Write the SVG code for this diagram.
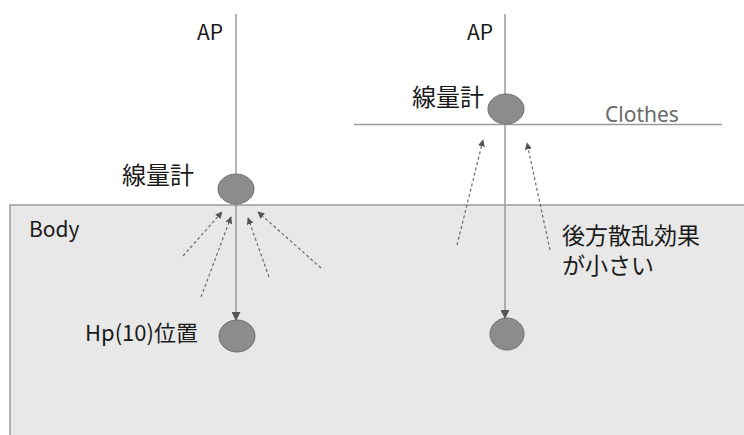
<svg xmlns="http://www.w3.org/2000/svg" width="744" height="435" viewBox="0 0 744 435">
<defs>
<style>
.t{font-family:"Noto Sans CJK JP","Liberation Sans",sans-serif;fill:#1a1a1a}
.ln{stroke:#9a9a9a;stroke-width:1.5;fill:none}
.dash{stroke:#6a6a6a;stroke-width:1.2;stroke-dasharray:3,2.5;fill:none}
.el{fill:#8c8c8c;stroke:#6e6e6e;stroke-width:1}
</style>
<marker id="ah" viewBox="0 0 10 10" refX="9" refY="5" markerWidth="7" markerHeight="7" orient="auto" markerUnits="userSpaceOnUse">
<path d="M0,0 L10,5 L0,10 z" fill="#555"/>
</marker>
<marker id="ah2" viewBox="0 0 10 10" refX="9" refY="5" markerWidth="9" markerHeight="9" orient="auto" markerUnits="userSpaceOnUse">
<path d="M0,0 L10,5 L0,10 z" fill="#555"/>
</marker>
</defs>
<rect width="744" height="435" fill="#fff"/>
<g id="body">
<rect x="10" y="205" width="740" height="240" fill="#e8e8e8" stroke="#9a9a9a" stroke-width="1.5"/>
<text class="t" x="29" y="237" font-size="21">Body</text>
</g>
<g id="clothes">
<line class="ln" x1="354" y1="124.5" x2="722" y2="124.5" stroke-width="3"/>
<text x="605" y="122" font-size="21" font-family="Noto Sans, Liberation Sans, sans-serif" fill="#6a6a6a">Clothes</text>
</g>
<g id="connectors">
<line class="ln" x1="236" y1="14" x2="236" y2="320" marker-end="url(#ah2)" stroke-width="1.2"/>
<line class="ln" x1="505" y1="14" x2="505" y2="318" marker-end="url(#ah2)" stroke-width="1.2"/>
<line class="dash" x1="183" y1="256" x2="222" y2="212" marker-end="url(#ah)"/>
<line class="dash" x1="201" y1="297" x2="231" y2="217" marker-end="url(#ah)"/>
<line class="dash" x1="269" y1="277" x2="248" y2="218" marker-end="url(#ah)"/>
<line class="dash" x1="321" y1="268" x2="258" y2="212" marker-end="url(#ah)"/>
<line class="dash" x1="457" y1="245" x2="483" y2="140" marker-end="url(#ah)"/>
<line class="dash" x1="550" y1="250" x2="527" y2="143" marker-end="url(#ah)"/>
</g>
<g id="ap-left"><text class="t" x="197" y="40" font-size="21">AP</text></g>
<g id="ap-right"><text class="t" x="467" y="40" font-size="21">AP</text></g>
<g id="dosimeter-left">
<ellipse class="el" cx="236" cy="189" rx="18" ry="15"/>
<text class="t" x="122" y="184" font-size="24">線量計</text>
</g>
<g id="dosimeter-right">
<ellipse class="el" cx="506" cy="109" rx="18" ry="15"/>
<text class="t" x="412" y="106" font-size="24">線量計</text>
</g>
<g id="hp10-left">
<ellipse class="el" cx="237" cy="336" rx="18" ry="16"/>
<text class="t" x="85" y="341" font-size="22">Hp(10)位置</text>
</g>
<g id="hp10-right">
<ellipse class="el" cx="507" cy="334" rx="17" ry="16"/>
</g>
<g id="note">
<text class="t" font-size="23"><tspan x="562" y="244">後方散乱効果</tspan><tspan x="562" y="274">が小さい</tspan></text>
</g>
</svg>
